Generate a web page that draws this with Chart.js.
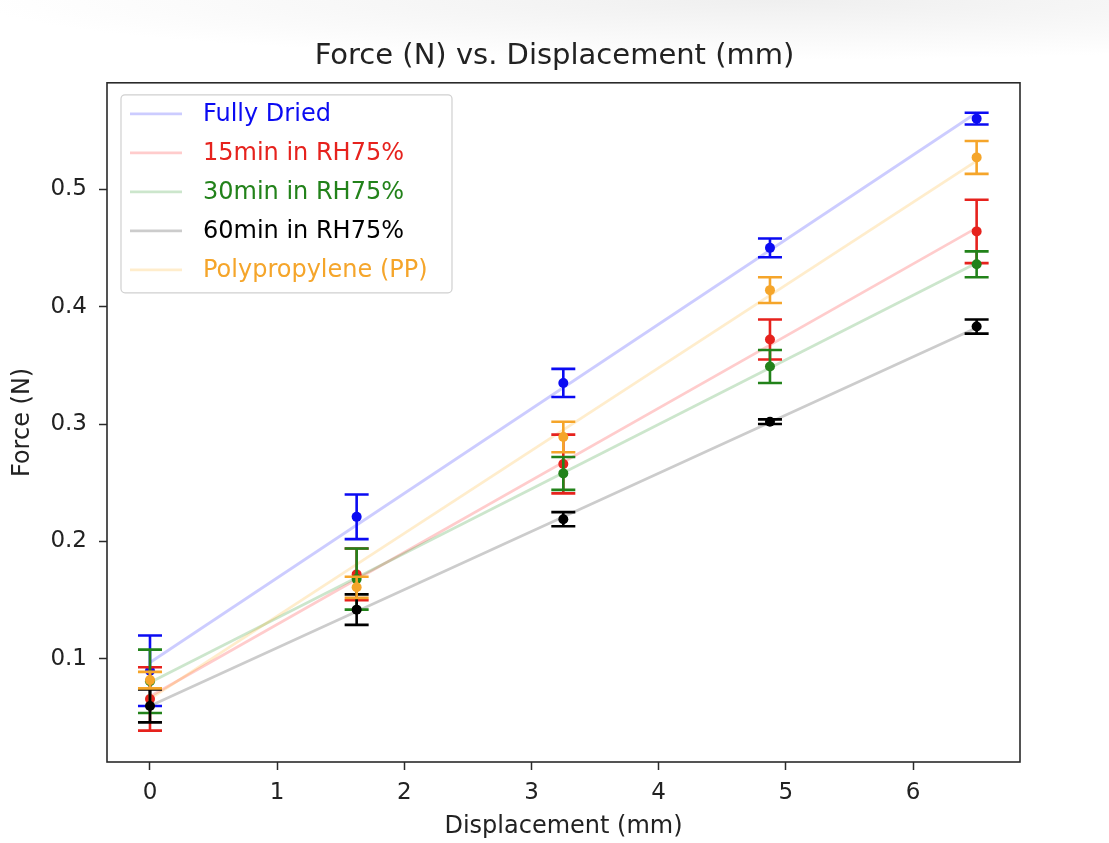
<!DOCTYPE html>
<html>
<head>
    <title>Force vs Displacement</title>
    <script src="https://cdn.jsdelivr.net/npm/chart.js"></script>
    <style>
        body { margin: 0; background: radial-gradient(ellipse 800px 60px at 70% 0, #efefef, #ffffff); }
        canvas { display: block; }
    </style>
</head>
<body>
    <canvas id="forceChart" width="1109" height="843"></canvas>
    <script>
        // displacement (mm) where force was measured
        var displacement = [0, 1.625, 3.25, 4.875, 6.5];

        // mean force (N) and error per condition
        var fullyDried    = [0.090, 0.221, 0.335, 0.450, 0.560];
        var fullyDriedErr = [0.030, 0.019, 0.012, 0.008, 0.005];
        var rh15          = [0.066, 0.172, 0.266, 0.372, 0.464];
        var rh15Err       = [0.027, 0.022, 0.025, 0.017, 0.027];
        var rh30          = [0.081, 0.168, 0.258, 0.349, 0.436];
        var rh30Err       = [0.027, 0.026, 0.014, 0.014, 0.011];
        var rh60          = [0.060, 0.142, 0.219, 0.302, 0.383];
        var rh60Err       = [0.014, 0.013, 0.006, 0.002, 0.006];
        var pp            = [0.082, 0.161, 0.289, 0.414, 0.527];
        var ppErr         = [0.007, 0.009, 0.013, 0.011, 0.014];

        // fitted line ends (force at first and last displacement)
        var fitX       = [0, 6.5];
        var fitDried   = [0.097, 0.565];
        var fitRh15    = [0.068, 0.467];
        var fitRh30    = [0.080, 0.437];
        var fitRh60    = [0.060, 0.382];
        var fitPP      = [0.066, 0.524];

        var xTicks = [0, 1, 2, 3, 4, 5, 6];
        var yTicks = [0.1, 0.2, 0.3, 0.4, 0.5];

        var series = [
            { label: 'Fully Dried',          y: fullyDried, err: fullyDriedErr, fit: fitDried, color: '#0b0bf2', rgb: '0,0,255' },
            { label: '15min in RH75%',       y: rh15,       err: rh15Err,       fit: fitRh15,  color: '#e6221d', rgb: '255,0,0' },
            { label: '30min in RH75%',       y: rh30,       err: rh30Err,       fit: fitRh30,  color: '#22821a', rgb: '0,128,0' },
            { label: '60min in RH75%',       y: rh60,       err: rh60Err,       fit: fitRh60,  color: '#000000', rgb: '0,0,0' },
            { label: 'Polypropylene (PP)',   y: pp,         err: ppErr,         fit: fitPP,    color: '#f5a52a', rgb: '255,165,0' }
        ];

        var FONT = 'DejaVu Sans';
        var datasets = [];
        series.forEach(function (s, i) {
            datasets.push({
                type: 'line',
                label: s.label + ' fit',
                data: fitX.map(function (x, j) { return { x: x, y: s.fit[j] }; }),
                borderColor: 'rgba(' + s.rgb + ',0.2)',
                borderWidth: 2.8,
                pointRadius: 0,
                fill: false,
                order: 20 - i
            });
            datasets.push({
                type: 'scatter',
                label: s.label,
                data: displacement.map(function (x, j) { return { x: x, y: s.y[j] }; }),
                errors: s.err,
                backgroundColor: s.color,
                borderColor: s.color,
                pointRadius: 5,
                pointBorderWidth: 0,
                order: 10 - i
            });
        });

        var errorBars = {
            id: 'errorBars',
            beforeDatasetDraw: function (chart, args) {
                var ds = chart.data.datasets[args.index];
                if (!ds.errors) return;
                var ctx = chart.ctx, xs = chart.scales.x, ys = chart.scales.y;
                ctx.save();
                ctx.strokeStyle = ds.borderColor;
                ctx.lineWidth = 2.6;
                ds.data.forEach(function (p, j) {
                    var px = xs.getPixelForValue(p.x);
                    var top = ys.getPixelForValue(p.y + ds.errors[j]);
                    var bot = ys.getPixelForValue(p.y - ds.errors[j]);
                    ctx.beginPath();
                    ctx.moveTo(px, top); ctx.lineTo(px, bot);
                    ctx.moveTo(px - 12, top); ctx.lineTo(px + 12, top);
                    ctx.moveTo(px - 12, bot); ctx.lineTo(px + 12, bot);
                    ctx.stroke();
                });
                ctx.restore();
            }
        };

        var frameAndLegend = {
            id: 'frameAndLegend',
            afterDraw: function (chart) {
                var ctx = chart.ctx, a = chart.chartArea;
                ctx.save();
                ctx.strokeStyle = '#2a2a2a';
                ctx.lineWidth = 1.6;
                ctx.strokeRect(a.left, a.top, a.right - a.left, a.bottom - a.top);

                // legend box, matplotlib style
                var bx = a.left + 14, by = a.top + 12, bw = 331, bh = 198;
                ctx.beginPath();
                ctx.roundRect(bx, by, bw, bh, 4);
                ctx.fillStyle = 'rgba(255,255,255,0.8)';
                ctx.fill();
                ctx.strokeStyle = '#d0d0d0';
                ctx.lineWidth = 1.2;
                ctx.stroke();
                ctx.font = '24px "' + FONT + '"';
                ctx.textBaseline = 'middle';
                series.forEach(function (s, i) {
                    var ly = by + 19 + i * 39;
                    ctx.strokeStyle = 'rgba(' + s.rgb + ',0.2)';
                    ctx.lineWidth = 2.8;
                    ctx.beginPath();
                    ctx.moveTo(bx + 9, ly); ctx.lineTo(bx + 61, ly);
                    ctx.stroke();
                    ctx.fillStyle = s.color;
                    ctx.fillText(s.label, bx + 82, ly + 1);
                });
                ctx.restore();
            }
        };

        var forceChart = new Chart(document.getElementById('forceChart').getContext('2d'), {
            data: { datasets: datasets },
            plugins: [errorBars, frameAndLegend],
            options: {
                responsive: false,
                animation: false,
                devicePixelRatio: 1,
                layout: { padding: 0 },
                plugins: {
                    legend: { display: false },
                    tooltip: { enabled: false },
                    title: {
                        display: true,
                        text: 'Force (N) vs. Displacement (mm)',
                        color: '#222',
                        font: { family: FONT, size: 29, weight: 'normal' },
                        padding: { top: 39, bottom: 9 }
                    }
                },
                scales: {
                    x: {
                        type: 'linear',
                        position: 'bottom',
                        min: -0.338,
                        max: 6.841,
                        afterFit: function (s) { s.height = 81; },
                        afterBuildTicks: function (s) { s.ticks = xTicks.map(function (v) { return { value: v }; }); },
                        ticks: { color: '#222', padding: 9, font: { family: FONT, size: 23 } },
                        grid: { drawOnChartArea: false, drawTicks: true, tickLength: 8, tickColor: '#2a2a2a', tickWidth: 1.5 },
                        border: { display: false },
                        title: { display: true, text: 'Displacement (mm)', color: '#222', font: { family: FONT, size: 24 }, padding: { top: 0, bottom: 2 } }
                    },
                    y: {
                        type: 'linear',
                        position: 'left',
                        min: 0.0123,
                        max: 0.5905,
                        afterFit: function (s) { s.width = 107; },
                        afterBuildTicks: function (s) { s.ticks = yTicks.map(function (v) { return { value: v }; }); },
                        ticks: { color: '#222', padding: 12, font: { family: FONT, size: 23 }, callback: function (v) { return v.toFixed(1); } },
                        grid: { drawOnChartArea: false, drawTicks: true, tickLength: 8, tickColor: '#2a2a2a', tickWidth: 1.5 },
                        border: { display: false },
                        title: { display: true, text: 'Force (N)', color: '#222', font: { family: FONT, size: 24 }, padding: { top: 8, bottom: 0 } }
                    },
                    yRight: {
                        type: 'linear',
                        position: 'right',
                        display: true,
                        afterFit: function (s) { s.width = 89; },
                        ticks: { display: false },
                        grid: { display: false },
                        border: { display: false }
                    }
                }
            }
        });
    </script>
</body>
</html>
